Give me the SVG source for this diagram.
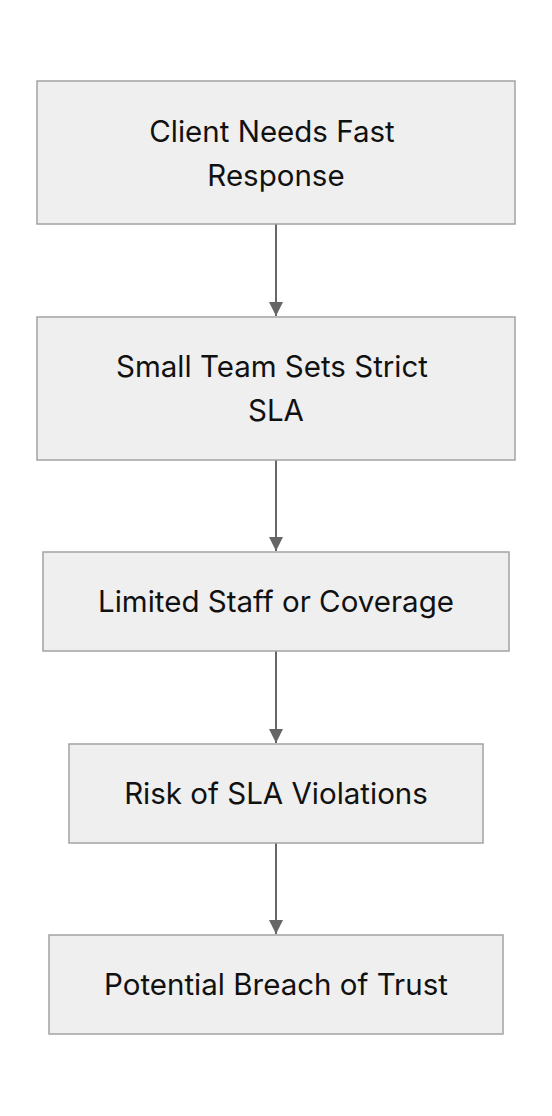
<svg xmlns="http://www.w3.org/2000/svg" width="552" height="1116" viewBox="0 0 552 1116">
<style>
.node rect{fill:#efefef;stroke:#a3a3a3;stroke-width:1.5}
.node text{font-family:Inter,"Noto Sans","Liberation Sans",sans-serif;font-size:29.5px;fill:#111;text-anchor:middle}
.edge{stroke:#666;stroke-width:2;fill:none}
</style>
<defs>
<marker id="arr" viewBox="0 0 10 10" refX="10" refY="5" markerWidth="7" markerHeight="7" markerUnits="strokeWidth" orient="auto">
<path d="M0,0 L10,5 L0,10 z" fill="#666"/>
</marker>
</defs>
<rect width="552" height="1116" fill="#fff"/>
<g id="edges">
<line class="edge" x1="276" y1="224" x2="276" y2="316" marker-end="url(#arr)"/>
<line class="edge" x1="276" y1="460" x2="276" y2="551" marker-end="url(#arr)"/>
<line class="edge" x1="276" y1="651" x2="276" y2="743" marker-end="url(#arr)"/>
<line class="edge" x1="276" y1="843" x2="276" y2="934" marker-end="url(#arr)"/>
</g>
<g id="n1" class="node">
<rect x="37" y="81" width="478" height="143"/>
<text x="272" y="142">Client Needs Fast</text>
<text x="276" y="186">Response</text>
</g>
<g id="n2" class="node">
<rect x="37" y="317" width="478" height="143"/>
<text x="272" y="377">Small Team Sets Strict</text>
<text x="276" y="421">SLA</text>
</g>
<g id="n3" class="node">
<rect x="43" y="552" width="466" height="99"/>
<text x="276" y="612">Limited Staff or Coverage</text>
</g>
<g id="n4" class="node">
<rect x="69" y="744" width="414" height="99"/>
<text x="276" y="804">Risk of SLA Violations</text>
</g>
<g id="n5" class="node">
<rect x="49" y="935" width="454" height="99"/>
<text x="276" y="995">Potential Breach of Trust</text>
</g>
</svg>
